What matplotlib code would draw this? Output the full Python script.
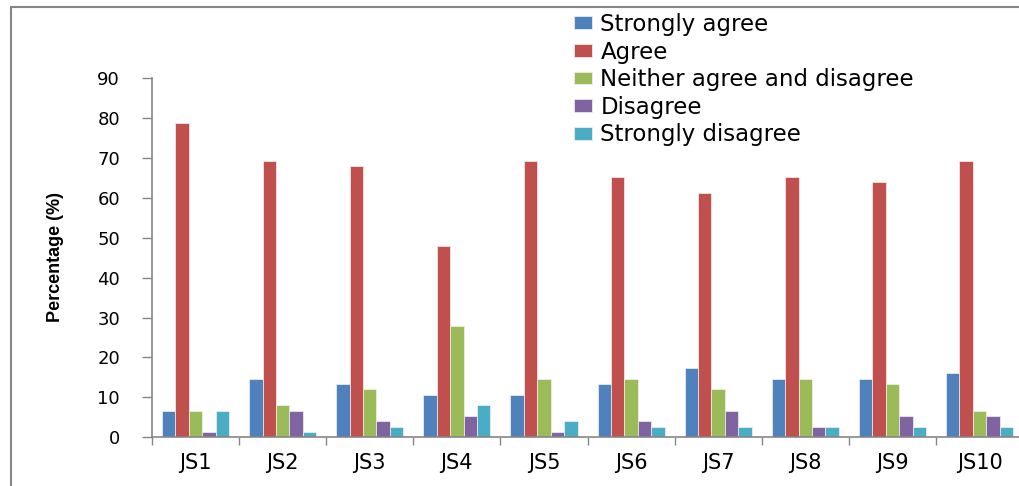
import matplotlib.pyplot as plt
import numpy as np
from matplotlib.patches import Rectangle

items = ['JS1', 'JS2', 'JS3', 'JS4', 'JS5', 'JS6', 'JS7', 'JS8', 'JS9', 'JS10']
strongly_agree = [6.7, 14.7, 13.3, 10.7, 10.7, 13.3, 17.3, 14.7, 14.7, 16.0]
agree = [78.7, 69.3, 68.0, 48.0, 69.3, 65.3, 61.3, 65.3, 64.0, 69.3]
neither = [6.7, 8.0, 12.0, 28.0, 14.7, 14.7, 12.0, 14.7, 13.3, 6.7]
disagree = [1.3, 6.7, 4.0, 5.3, 1.3, 4.0, 6.7, 2.7, 5.3, 5.3]
strongly_disagree = [6.7, 1.3, 2.7, 8.0, 4.0, 2.7, 2.7, 2.7, 2.7, 2.7]

series = [
    ('Strongly agree', strongly_agree, '#4F81BD'),
    ('Agree', agree, '#C0504D'),
    ('Neither agree and disagree', neither, '#9BBB59'),
    ('Disagree', disagree, '#8064A2'),
    ('Strongly disagree', strongly_disagree, '#4BACC6'),
]

grey = '#868686'
fig = plt.figure(figsize=(10.2, 4.86), dpi=100)
ax = fig.add_axes([0.149, 0.1002, 0.854, 0.739])

x = np.arange(len(items))
w = 0.154
for i, (name, vals, col) in enumerate(series):
    ax.bar(x + (i - 2) * w, vals, w, color=col, edgecolor='#f2f2f2',
           linewidth=0.5, label=name)

ax.set_xlim(-0.5, len(items) - 0.5)
ax.set_ylim(0, 90)
ax.set_yticks(range(0, 91, 10))
ax.tick_params(axis='y', direction='out', length=7, width=1, color=grey,
               labelsize=13, pad=16)

# group separators as major ticks, names as minor ticks in the middle
ax.set_xticks(np.arange(-0.5, len(items), 1.0))
ax.set_xticklabels([])
ax.set_xticks(x, minor=True)
ax.set_xticklabels(items, minor=True)
ax.tick_params(axis='x', which='major', direction='out', length=6, width=1,
               color=grey)
ax.tick_params(axis='x', which='minor', length=0, labelsize=15, pad=11)

for s in ['top', 'right']:
    ax.spines[s].set_visible(False)
for s in ['left', 'bottom']:
    ax.spines[s].set_color(grey)
    ax.spines[s].set_linewidth(1.2)

fig.text(55 / 1020, 1 - 257 / 486, 'Percentage (%)', rotation=90,
         ha='center', va='center', fontsize=13, fontweight='bold',
         family=['Liberation Sans', 'DejaVu Sans'])

fig.legend(loc='upper left', bbox_to_anchor=(574 / 1020, 1 - 13 / 486),
           frameon=False, fontsize=16.5, handlelength=0.8, handleheight=0.48,
           handletextpad=0.35, labelspacing=0.2, borderpad=0, borderaxespad=0)

# chart area border
fig.patches.append(Rectangle((11 / 1020, -0.1), 1.1, 1 - 7 / 486 + 0.1,
                             transform=fig.transFigure, fill=False,
                             edgecolor=grey, linewidth=1.5))

fig.savefig('out.png', dpi=100)
